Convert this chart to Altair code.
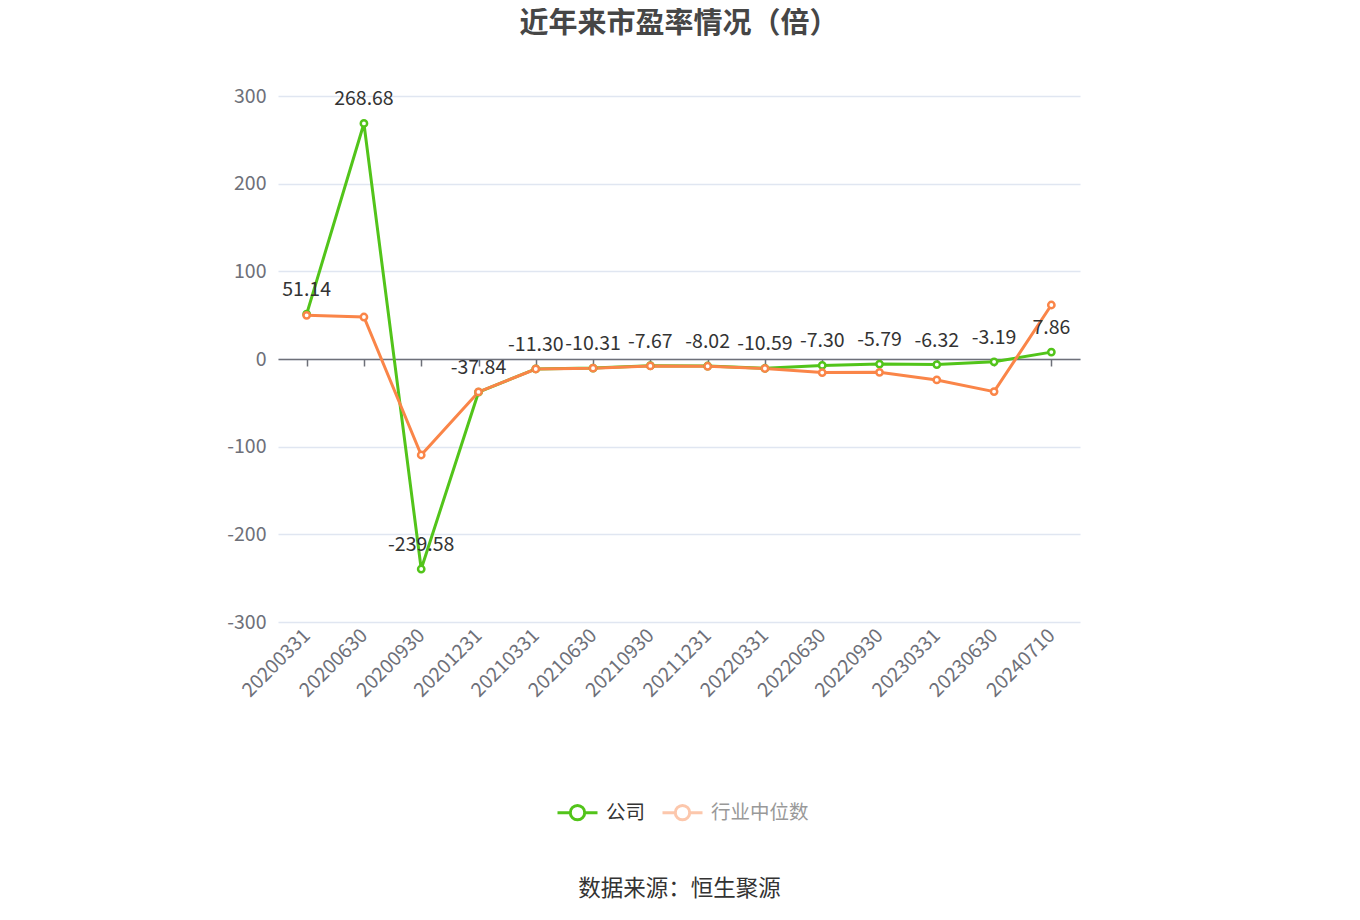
import altair as alt
import pandas as pd

dates = ["20200331", "20200630", "20200930", "20201231", "20210331", "20210630",
         "20210930", "20211231", "20220331", "20220630", "20220930", "20230331",
         "20230630", "20240710"]
company = [51.14, 268.68, -239.58, -37.84, -11.30, -10.31, -7.67, -8.02, -10.59,
           -7.30, -5.79, -6.32, -3.19, 7.86]
industry = [49.8, 47.9, -109.5, -37.6, -11.4, -10.5, -7.9, -8.3, -10.8,
            -15.5, -15.2, -23.9, -37.2, 61.6]
series_names = ["公司", "行业中位数"]
colors = ["#52C41A", "#FA8548"]

rows = []
for name, vals in zip(series_names, [company, industry]):
    for i, (d, v) in enumerate(zip(dates, vals)):
        rows.append({"date": d, "value": v, "series": name, "order": i})
df = pd.DataFrame(rows)

FONT = "Noto Sans CJK SC"
FS = 19.5

color_scale = alt.Scale(domain=series_names, range=colors)
x_scale = alt.Scale(domain=dates, padding=0.5)
y_scale = alt.Scale(domain=[-300, 300], nice=False)

sym_path = ("M-1,0L-0.36,0M0.36,0L1,0"
            "M0.36,0A0.36,0.36 0 1,1 -0.36,0A0.36,0.36 0 1,1 0.36,0")

base = alt.Chart(df)

lines = base.mark_line(strokeWidth=3).encode(
    x=alt.X("date:O", scale=x_scale, sort=dates,
            axis=alt.Axis(title="数据来源：恒生聚源", titleFont=FONT, titleFontSize=22.5,
                          titleFontWeight="normal", titleColor="#333333",
                          titleY=266, titleBaseline="middle",
                          labelAngle=-45, labelAlign="right", labelBaseline="middle",
                          labelFont=FONT, labelFontSize=FS, labelColor="#6E7079",
                          labelPadding=10, domain=False, ticks=False, grid=False)),
    y=alt.Y("value:Q", scale=y_scale,
            axis=alt.Axis(title=None, values=[-300, -200, -100, 0, 100, 200, 300],
                          labelExpr="replace(datum.label, '\u2212', '-')",
                          labelFont=FONT, labelFontSize=FS, labelColor="#6E7079",
                          labelPadding=12, domain=False, ticks=False,
                          gridColor="#E0E6F1", gridWidth=1.5)),
    color=alt.Color("series:N", scale=color_scale, sort=series_names,
                    legend=alt.Legend(title=None, orient="none", direction="horizontal",
                                      legendX=278, legendY=695,
                                      symbolType=sym_path, symbolSize=1600,
                                      symbolStrokeWidth=3, symbolFillColor="white",
                                      symbolOpacity=alt.ExprRef(expr="datum.label == '公司' ? 1 : 0.45"),
                                      labelColor=alt.ExprRef(expr="datum.label == '公司' ? '#333333' : '#999999'"),
                                      labelFont=FONT, labelFontSize=FS, labelOffset=7,
                                      columnPadding=10)),
    detail="series:N",
    order="order:Q",
)

zero_axis = base.mark_point(opacity=0).encode(
    x=alt.X("date:O", scale=x_scale, sort=dates,
            axis=alt.Axis(title=None, orient="bottom", offset=-263, labels=False,
                          domain=True, domainColor="#6E7079", domainWidth=1.5,
                          ticks=True, tickColor="#6E7079", tickSize=7, tickWidth=1.5,
                          grid=False)),
    y=alt.Y("value:Q", scale=y_scale),
)

points = base.mark_point(filled=True, fill="white", strokeWidth=2.5, size=40, opacity=1).encode(
    x=alt.X("date:O", scale=x_scale, sort=dates, axis=None),
    y=alt.Y("value:Q", scale=y_scale),
    stroke=alt.Stroke("series:N", scale=color_scale, legend=None),
)

labels = base.transform_filter(alt.datum.series == "公司").transform_calculate(
    lbl="replace(format(datum.value, '.2f'), '\u2212', '-')"
).mark_text(
    font=FONT, fontSize=FS, color="#333333", baseline="middle", dy=-24
).encode(
    x=alt.X("date:O", scale=x_scale, sort=dates, axis=None),
    y=alt.Y("value:Q", scale=y_scale),
    text=alt.Text("lbl:N"),
)

chart = alt.layer(lines, zero_axis, points, labels).resolve_axis(
    x="independent"
).properties(
    width=802, height=526,
    padding={"left": 270, "top": 88, "right": 272, "bottom": 290},
    autosize=alt.AutoSizeParams(type="none"),
    title=alt.TitleParams("近年来市盈率情况（倍）", font=FONT, fontSize=29,
                          fontWeight="bold", color="#464646", anchor="middle", offset=47),
).configure_view(stroke=None)

chart.save("out.html", embed_options={"renderer": "svg", "actions": False})
